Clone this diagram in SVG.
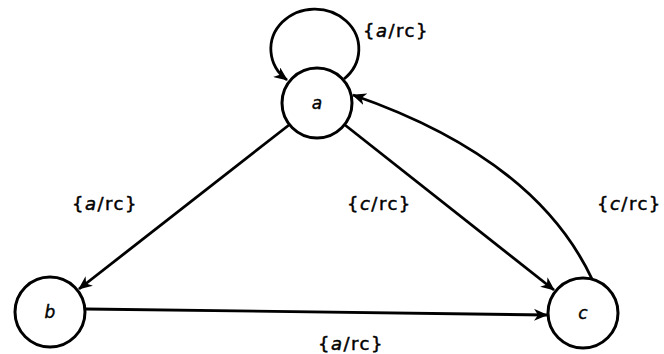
<svg xmlns="http://www.w3.org/2000/svg" width="664" height="354" viewBox="0 0 664 354">
<style>
.node circle{fill:#fff;stroke:#000;stroke-width:3}
.nl{font-family:"DejaVu Sans","Liberation Sans",sans-serif;font-size:17px;font-style:italic;text-anchor:middle;stroke:#000;stroke-width:0.4}
.edge{fill:none;stroke:#000;stroke-width:2.8}
.lbl{font-family:"DejaVu Sans","Liberation Sans",sans-serif;font-size:18px;letter-spacing:1.5px;stroke:#000;stroke-width:0.5}
.it{font-style:italic}
</style>
<defs>
<marker id="ah" viewBox="0 0 14 12" refX="13" refY="6" markerWidth="14" markerHeight="12" markerUnits="userSpaceOnUse" orient="auto">
<path d="M0,0 L14,6 L0,12 L4,6 z" fill="#000"/>
</marker>
</defs>
<g id="connectors">
<path class="edge" d="M344,79 A44,40 0 1 0 287,80" marker-end="url(#ah)"/>
<path class="edge" d="M289,125 L79,289" marker-end="url(#ah)"/>
<path class="edge" d="M345,125 L554,290" marker-end="url(#ah)"/>
<path class="edge" d="M86,309 L547,315" marker-end="url(#ah)"/>
<path class="edge" d="M592,279 Q535,158 353,95" marker-end="url(#ah)"/>
</g>
<g id="node-a" class="node"><circle cx="317" cy="103" r="35"/><text class="nl" x="317" y="109">a</text></g>
<g id="node-b" class="node"><circle cx="50" cy="312" r="35"/><text class="nl" x="50" y="318">b</text></g>
<g id="node-c" class="node"><circle cx="583" cy="313" r="35"/><text class="nl" x="583" y="319">c</text></g>
<g id="labels">
<text class="lbl" x="363" y="37">{<tspan class="it">a</tspan>/rc}</text>
<text class="lbl" x="72" y="210">{<tspan class="it">a</tspan>/rc}</text>
<text class="lbl" x="347" y="210">{<tspan class="it">c</tspan>/rc}</text>
<text class="lbl" x="597" y="210">{<tspan class="it">c</tspan>/rc}</text>
<text class="lbl" x="318" y="350">{<tspan class="it">a</tspan>/rc}</text>
</g>
</svg>
